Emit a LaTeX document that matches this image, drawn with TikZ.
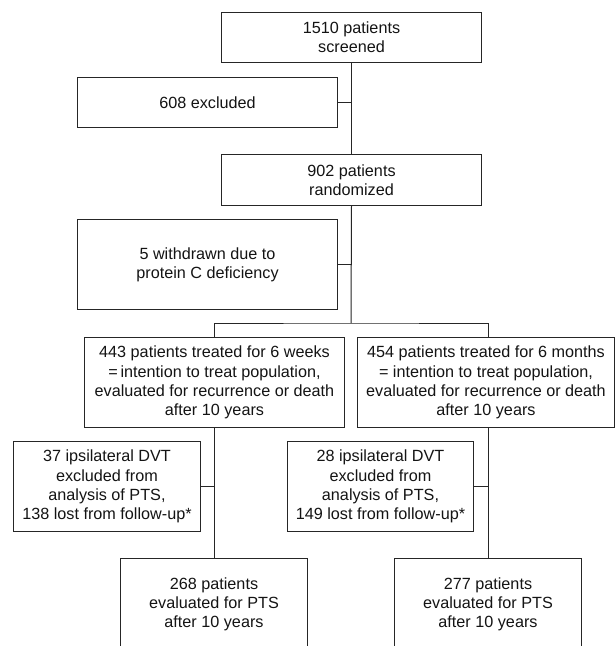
\documentclass[tikz,border=0pt]{standalone}
\usepackage{fontspec}
\setmainfont{Liberation Sans}
\begin{document}
\begin{tikzpicture}[x=1pt,y=-1pt,
  box/.style={draw=black!85, line width=1pt, inner sep=0pt, align=center,
    anchor=north west, font=\fontsize{16.2}{19.2}\selectfont, text=black!92},
  link/.style={draw=black!85, line width=1pt}]
\clip (0,0) rectangle (615,646);
\fill[white] (0,0) rectangle (615,646);
% top chain
\node[box, minimum width=260pt, minimum height=50pt] (b1) at (221,12) {1510 patients\\screened};
\node[box, minimum width=260pt, minimum height=50pt] (e1) at (77,77) {608 excluded};
\node[box, minimum width=260pt, minimum height=51pt] (b2) at (221,154) {902 patients\\randomized};
\node[box, minimum width=260pt, minimum height=90pt] (w1) at (77,219) {5 withdrawn due to\\protein C deficiency};
% arms
\node[box, minimum width=260pt, minimum height=90pt] (m1) at (84,337) {443 patients treated for 6 weeks\\=\,intention to treat population,\\evaluated for recurrence or death\\after 10 years};
\node[box, minimum width=257pt, minimum height=90pt] (m2) at (357,337) {454 patients treated for 6 months\\= intention to treat population,\\evaluated for recurrence or death\\after 10 years};
\node[box, minimum width=187pt, minimum height=90pt] (x1) at (13,441) {37 ipsilateral DVT\\excluded from\\analysis of PTS,\\138 lost from follow-up*};
\node[box, minimum width=186pt, minimum height=90pt] (x2) at (287,441) {28 ipsilateral DVT\\excluded from\\analysis of PTS,\\149 lost from follow-up*};
\node[box, minimum width=187pt, minimum height=92pt] (f1) at (120,558) {268 patients\\evaluated for PTS\\after 10 years};
\node[box, minimum width=187pt, minimum height=92pt] (f2) at (394,558) {277 patients\\evaluated for PTS\\after 10 years};
% connectors
\coordinate (sp) at (351,323);
\draw[link] (b1.south) -- (b2.north);
\draw[link] (e1.east) -- (e1.east -| b1.south);
\draw[link] (b2.south) -- (sp);
\draw[link] (w1.east) -- (w1.east -| b2.south);
\draw[link] (m1.north -| f1.north) |- (sp) -| (f2.north |- m2.north);
\draw[link] (m1.south -| f1.north) -- (f1.north);
\draw[link] (m2.south -| f2.north) -- (f2.north);
\draw[link] (x1.east) -- (x1.east -| f1.north);
\draw[link] (x2.east) -- (x2.east -| f2.north);
\end{tikzpicture}
\end{document}
